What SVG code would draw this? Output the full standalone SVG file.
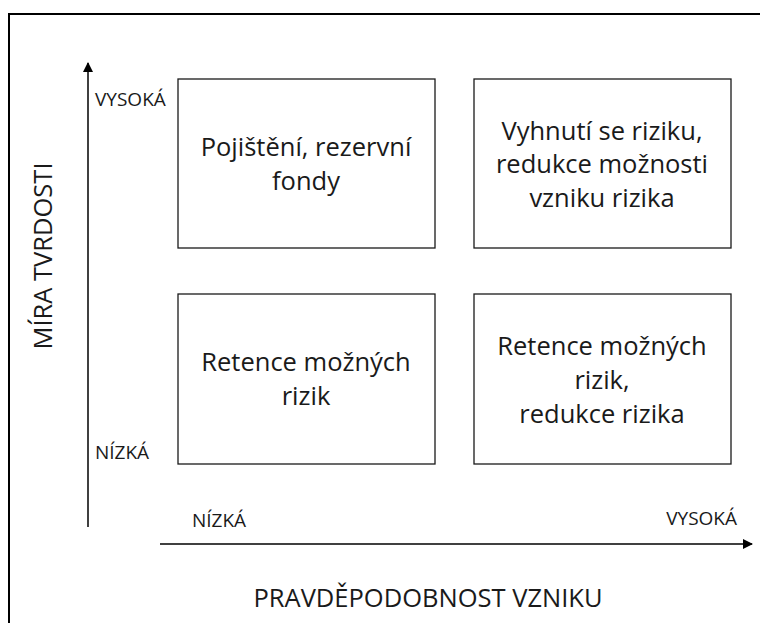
<svg xmlns="http://www.w3.org/2000/svg" width="760" height="623" viewBox="0 0 760 623">
<defs>
<style>
.t{font-family:"Open Sans","Noto Sans","Liberation Sans",sans-serif;fill:#1a1a1a}
.big{font-size:25.5px;text-anchor:middle}
.sm{font-size:19px}
.box{fill:#fff;stroke:#1a1a1a;stroke-width:1.3}
.ax{stroke:#000;stroke-width:1.5;fill:none}
</style>
<marker id="ah" markerWidth="10" markerHeight="10" refX="9" refY="5" orient="auto" markerUnits="userSpaceOnUse">
<path d="M0,0 L10,5 L0,10 Z" fill="#000"/>
</marker>
</defs>
<rect width="760" height="623" fill="#fff"/>
<rect x="9" y="14" width="760" height="620" fill="none" stroke="#000" stroke-width="2"/>
<g id="connectors">
<line class="ax" x1="88" y1="527" x2="88" y2="63" marker-end="url(#ah)"/>
<line class="ax" x1="160" y1="544" x2="752" y2="544" marker-end="url(#ah)"/>
</g>
<g id="box1">
<rect class="box" x="178" y="79" width="257" height="169"/>
<text class="t big" x="306" y="156">Pojištění, rezervní</text>
<text class="t big" x="306" y="190">fondy</text>
</g>
<g id="box2">
<rect class="box" x="474" y="79" width="257" height="169"/>
<text class="t big" x="602" y="140">Vyhnutí se riziku,</text>
<text class="t big" x="602" y="173">redukce možnosti</text>
<text class="t big" x="602" y="207">vzniku rizika</text>
</g>
<g id="box3">
<rect class="box" x="178" y="294" width="257" height="170"/>
<text class="t big" x="306" y="371">Retence možných</text>
<text class="t big" x="306" y="405">rizik</text>
</g>
<g id="box4">
<rect class="box" x="474" y="294" width="257" height="170"/>
<text class="t big" x="602" y="355">Retence možných</text>
<text class="t big" x="602" y="389">rizik,</text>
<text class="t big" x="602" y="423">redukce rizika</text>
</g>
<g id="labels">
<text class="t sm" x="95" y="106">VYSOKÁ</text>
<text class="t sm" x="95" y="459">NÍZKÁ</text>
<text class="t sm" x="192" y="527">NÍZKÁ</text>
<text class="t sm" x="737" y="525" text-anchor="end">VYSOKÁ</text>
<text class="t big" x="428" y="607">PRAVDĚPODOBNOST VZNIKU</text>
<text class="t big" transform="translate(52,256) rotate(-90)">MÍRA TVRDOSTI</text>
</g>
</svg>
